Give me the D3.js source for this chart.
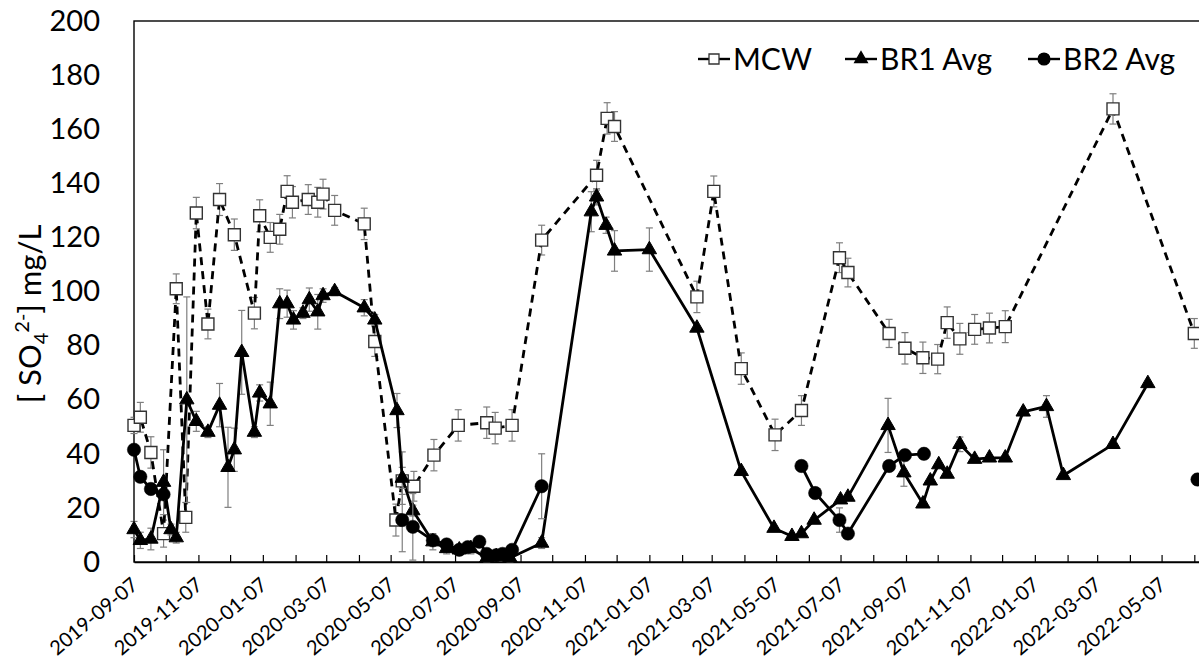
<!DOCTYPE html>
<html>
<head>
<meta charset="utf-8">
<script src="https://cdn.jsdelivr.net/npm/d3@7"></script>
<style>
  html, body { margin: 0; padding: 0; background: #fff; overflow: hidden; }
  svg { display: block; }
  text { font-family: Lato, "Liberation Sans", sans-serif; fill: #000; }
</style>
</head>
<body>
<svg id="chart" width="1199" height="665"></svg>
<script>
// ---- Sulfate concentration, mg/L ----
const mcwDates = ["2019-09-07","2019-09-13","2019-09-23","2019-10-05","2019-10-17","2019-10-26","2019-11-05","2019-11-16","2019-11-27","2019-12-11","2019-12-30","2020-01-04","2020-01-14","2020-01-23","2020-01-30","2020-02-04","2020-02-19","2020-02-28","2020-03-04","2020-03-15","2020-04-12","2020-04-22","2020-05-12","2020-05-18","2020-05-29","2020-06-17","2020-07-10","2020-08-06","2020-08-14","2020-08-30","2020-09-27","2020-11-18","2020-11-28","2020-12-05","2021-02-21","2021-03-09","2021-04-04","2021-05-06","2021-05-31","2021-07-06","2021-07-14","2021-08-22","2021-09-06","2021-09-23","2021-10-07","2021-10-16","2021-10-28","2021-11-11","2021-11-25","2021-12-10","2022-03-22","2022-06-07"];
const mcwValues = [50.5,53.5,40.5,10.5,101,16.5,129,88,134,121,92,128,120,123,137,133,134,133,136,130,125,81.5,15.5,30,28,39.5,50.5,51.5,49.5,50.5,119,143,164,161,98,137,71.5,47,56,112.5,107,84.5,79,75.5,75,88.5,82.5,86,86.5,87,167.5,84.5];
const mcwErrors = [3,5.5,5.8,5,5.5,5.5,5.8,5.5,5.9,5.8,5.8,5.9,5.5,5.5,5.8,5.8,5.5,5.5,5.5,5.5,5.8,5.5,5.9,5,5.5,5.8,5.8,5.8,5.8,5.8,5.5,5.5,5.8,5.5,5.8,5.7,5.8,5.8,5.5,5.5,5.3,5.2,5.8,5.8,5.4,5.8,5.7,5.5,5.5,5.9,5.6,5.5];

const br1Dates = ["2019-09-07","2019-09-13","2019-09-23","2019-10-05","2019-10-12","2019-10-17","2019-10-27","2019-11-05","2019-11-16","2019-11-27","2019-12-05","2019-12-11","2019-12-18","2019-12-30","2020-01-04","2020-01-14","2020-01-23","2020-01-30","2020-02-05","2020-02-14","2020-02-20","2020-02-28","2020-03-04","2020-03-15","2020-04-12","2020-04-22","2020-05-13","2020-05-18","2020-05-28","2020-06-16","2020-06-29","2020-07-11","2020-07-22","2020-08-06","2020-08-15","2020-08-28","2020-09-27","2020-11-13","2020-11-18","2020-11-27","2020-12-05","2021-01-07","2021-02-21","2021-04-04","2021-05-05","2021-05-22","2021-05-31","2021-06-12","2021-07-07","2021-07-14","2021-08-21","2021-09-05","2021-09-23","2021-09-30","2021-10-08","2021-10-16","2021-10-28","2021-11-11","2021-11-25","2021-12-10","2021-12-27","2022-01-18","2022-02-03","2022-03-22","2022-04-24"];
const br1Values = [12,8,8.5,29.5,12,9,60,52,48,58,35,41.5,77.5,48,62.5,58.5,95.5,95.5,89.5,92,97,92.5,98.5,100,94,89.5,56,31,19,7.5,5,4.5,5,1.5,2,1.5,7,129.5,135,124.5,115,115.5,86.5,33.5,12.5,9.5,10.5,15.5,23,24,50.5,33,21.5,30,36,32.5,43.5,38,38.5,38.5,55.5,57.5,32,43.5,66];
const br1Errors = [3,3,4,12,2,2,38,3.7,2,8,14.8,8,15.5,2,3,8,5.5,5,3.4,2,4.3,6.4,2.5,1.5,3,2,6.3,9.7,2,3,2,2,2,1.5,1.5,1.5,2,7.4,3,3,7.5,8,0,0,0,0,0,0,0,0,10,5,0,0,0,0,2.7,0,0,0,0,4,0,0,0];

// null entries are blank sampling periods (the line breaks there)
const br2Dates = ["2019-09-07","2019-09-13","2019-09-23","2019-10-05","2020-01-01","2020-05-18","2020-05-28","2020-06-16","2020-06-29","2020-07-11","2020-07-19","2020-07-30","2020-08-06","2020-08-15","2020-08-21","2020-08-30","2020-09-27","2021-01-01","2021-05-31","2021-06-13","2021-07-06","2021-07-14","2021-08-22","2021-09-06","2021-09-24","2022-01-01","2022-06-10"];
const br2Values = [41.5,31.5,27,25,null,15.5,13,8,6.5,4.5,5.5,7.5,3,2.5,3,4.5,28,null,35.5,25.5,15.5,10.5,35.5,39.5,40,null,30.5];
const br2Errors = [1.5,1.5,1.5,1.5,null,11.7,12.3,1.5,1.5,1.5,1.5,1.5,1,1,1,1.5,12,null,2,2,4.5,2,2,2,2,null,2];

const xTickLabels = ["2019-09-07","2019-11-07","2020-01-07","2020-03-07","2020-05-07","2020-07-07","2020-09-07","2020-11-07","2021-01-07","2021-03-07","2021-05-07","2021-07-07","2021-09-07","2021-11-07","2022-01-07","2022-03-07","2022-05-07"];
const yTicks = [0,20,40,60,80,100,120,140,160,180,200];
const seriesNames = ["MCW","BR1 Avg","BR2 Avg"];

// ---- layout ----
const parse = d3.utcParse("%Y-%m-%d");
const fmt = d3.utcFormat("%Y-%m-%d");
const plot = { left: 134, top: 21, bottom: 562, right: 1226 };
const xStart = parse("2019-09-07"), xEnd = parse("2022-07-07");

const x = d3.scaleUtc().domain([xStart, xEnd]).range([plot.left, plot.right]);
const y = d3.scaleLinear().domain([0, 200]).range([plot.bottom, plot.top]);

const svg = d3.select("#chart");

function zip(dates, values, errors) {
  return dates.map((d, i) => ({ date: parse(d), v: values[i], e: errors[i] }));
}
const mcw = zip(mcwDates, mcwValues, mcwErrors);
const br1 = zip(br1Dates, br1Values, br1Errors);
const br2 = zip(br2Dates, br2Values, br2Errors);

// plot frame
svg.append("rect")
  .attr("x", plot.left).attr("y", plot.top)
  .attr("width", plot.right - plot.left).attr("height", plot.bottom - plot.top)
  .attr("fill", "none").attr("stroke", "#000").attr("stroke-width", 1.4);

// x axis: monthly ticks on the 7th, labels every second month
const monthTicks = d3.utcMonth.range(d3.utcMonth.floor(xStart), xEnd)
  .map(m => d3.utcDay.offset(m, 6))
  .filter(d => d >= xStart && d <= xEnd);
const labelSet = new Set(xTickLabels);

const xAxis = d3.axisBottom(x)
  .tickValues(monthTicks)
  .tickSizeInner(-7)
  .tickSizeOuter(0)
  .tickFormat(d => labelSet.has(fmt(d)) ? fmt(d) : "");

const gx = svg.append("g").attr("transform", `translate(0,${plot.bottom})`).call(xAxis);
gx.select(".domain").attr("stroke", "#000").attr("stroke-width", 1.6);
gx.selectAll(".tick line").attr("stroke", "#000").attr("stroke-width", 1.2);
gx.selectAll(".tick text")
  .attr("font-family", "Lato, sans-serif")
  .attr("font-size", 20)
  .attr("fill", "#000")
  .attr("text-anchor", "end")
  .attr("y", 0).attr("dy", 0)
  .attr("transform", "translate(5,25) rotate(-40)");

// y axis labels (no tick marks)
const yAxis = d3.axisLeft(y).tickValues(yTicks).tickSize(0).tickPadding(0);
const gy = svg.append("g").attr("transform", `translate(100,0)`).call(yAxis);
gy.select(".domain").remove();
gy.selectAll(".tick text")
  .attr("font-family", "Lato, sans-serif")
  .attr("font-size", 29)
  .attr("fill", "#000")
  .attr("x", 0);

// y axis title
const yTitle = svg.append("text")
  .attr("transform", "translate(41,314) rotate(-90)")
  .attr("text-anchor", "middle")
  .attr("font-size", 31);
yTitle.append("tspan").text("[ SO");
yTitle.append("tspan").attr("font-size", 20).attr("dy", 7).text("4");
yTitle.append("tspan").attr("font-size", 20).attr("dy", -19).text("2-");
yTitle.append("tspan").attr("dy", 12).text("] mg/L");

// ---- series drawing ----
const errColor = "#7f7f7f";
function drawErrors(data) {
  const g = svg.append("g").attr("stroke", errColor).attr("stroke-width", 1.2).attr("fill", "none");
  const pts = data.filter(d => d.v != null && d.e);
  g.selectAll("line.bar").data(pts).join("line")
    .attr("x1", d => x(d.date)).attr("x2", d => x(d.date))
    .attr("y1", d => y(d.v - d.e)).attr("y2", d => y(d.v + d.e));
  g.selectAll("line.capTop").data(pts).join("line").attr("class", "capTop")
    .attr("x1", d => x(d.date) - 3.5).attr("x2", d => x(d.date) + 3.5)
    .attr("y1", d => y(d.v + d.e)).attr("y2", d => y(d.v + d.e));
  g.selectAll("line.capBot").data(pts).join("line").attr("class", "capBot")
    .attr("x1", d => x(d.date) - 3.5).attr("x2", d => x(d.date) + 3.5)
    .attr("y1", d => y(d.v - d.e)).attr("y2", d => y(d.v - d.e));
}
const line = d3.line().defined(d => d.v != null).x(d => x(d.date)).y(d => y(d.v));

function drawLine(data, dashed) {
  svg.append("path").datum(data)
    .attr("d", line)
    .attr("fill", "none").attr("stroke", "#000")
    .attr("stroke-width", 2.8)
    .attr("stroke-linejoin", "round")
    .attr("stroke-dasharray", dashed ? "8,6" : null);
}

const squareSym = d3.symbol(d3.symbolSquare, 144);
const triSym = d3.symbol(d3.symbolTriangle, 90);
const circSym = d3.symbol(d3.symbolCircle, 140);

function drawMarkers(data, sym, fill, stroke, sw) {
  svg.append("g").selectAll("path").data(data.filter(d => d.v != null)).join("path")
    .attr("d", sym)
    .attr("transform", d => `translate(${x(d.date)},${y(d.v)})`)
    .attr("fill", fill).attr("stroke", stroke).attr("stroke-width", sw);
}

// MCW: dashed line, open squares
drawErrors(mcw);
drawLine(mcw, true);
drawMarkers(mcw, squareSym, "#fff", "#333", 1.4);
// BR1: solid line, filled triangles
drawErrors(br1);
drawLine(br1, false);
drawMarkers(br1, triSym, "#000", "#000", 1);
// BR2: solid line, filled circles
drawErrors(br2);
drawLine(br2, false);
drawMarkers(br2, circSym, "#000", "#000", 0.5);

// ---- legend ----
const legendItems = [
  { name: seriesNames[0], sym: d3.symbol(d3.symbolSquare, 100), fill: "#fff", stroke: "#333", x: 698 },
  { name: seriesNames[1], sym: d3.symbol(d3.symbolTriangle, 70), fill: "#000", stroke: "#000", x: 845 },
  { name: seriesNames[2], sym: d3.symbol(d3.symbolCircle, 110), fill: "#000", stroke: "#000", x: 1028 }
];
const lg = svg.append("g");
legendItems.forEach(it => {
  const g = lg.append("g").attr("transform", `translate(${it.x},59)`);
  g.append("line").attr("x1", 0).attr("x2", 32).attr("y1", 0).attr("y2", 0)
    .attr("stroke", "#000").attr("stroke-width", 2.4);
  g.append("path").attr("d", it.sym).attr("transform", "translate(16,0)")
    .attr("fill", it.fill).attr("stroke", it.stroke).attr("stroke-width", 1.3);
  g.append("text").attr("x", 35).attr("y", 11).attr("font-size", 30).text(it.name);
});
</script>
</body>
</html>
